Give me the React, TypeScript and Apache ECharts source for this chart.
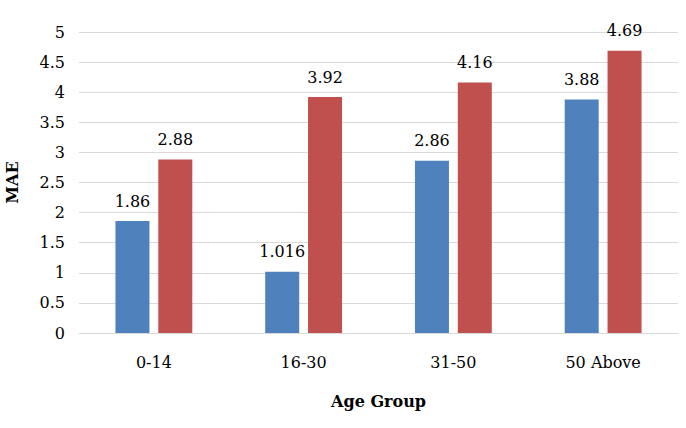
import React, { useEffect, useRef } from "react";
import * as echarts from "echarts";

// Mean absolute error by age group, two models side by side
const ageGroups = ["0-14", "16-30", "31-50", "50 Above"];
const seriesA = [1.86, 1.016, 2.86, 3.88];
const seriesB = [2.88, 3.92, 4.16, 4.69];
const yTicks = { min: 0, max: 5, interval: 0.5 };

const FONT = "DejaVu Serif";
const SIZE = 16;
const TEXT = "#000000";

export default function App() {
  const ref = useRef<HTMLDivElement>(null);

  useEffect(() => {
    if (!ref.current) return;
    const chart = echarts.init(ref.current, undefined, { renderer: "svg" });
    const label = {
      show: true,
      position: "top" as const,
      distance: 12,
      fontFamily: FONT,
      fontSize: SIZE,
      color: TEXT,
    };
    chart.setOption({
      animation: false,
      backgroundColor: "#ffffff",
      grid: {
        left: 79,
        right: 8,
        top: 32,
        bottom: 95,
        containLabel: false,
        outerBoundsMode: "none",
      },
      xAxis: {
        type: "category",
        data: ageGroups,
        name: "Age Group",
        nameLocation: "middle",
        nameGap: 60,
        nameTextStyle: { fontFamily: FONT, fontSize: SIZE, fontWeight: "bold", color: TEXT },
        axisLine: { lineStyle: { color: "#d9d9d9", width: 1 } },
        axisTick: { show: false },
        axisLabel: { fontFamily: FONT, fontSize: SIZE, color: TEXT, margin: 21 },
      },
      yAxis: {
        type: "value",
        min: yTicks.min,
        max: yTicks.max,
        interval: yTicks.interval,
        name: "MAE",
        nameLocation: "middle",
        nameGap: 59,
        nameTextStyle: { fontFamily: FONT, fontSize: SIZE, fontWeight: "bold", color: TEXT },
        axisLine: { show: false },
        axisTick: { show: false },
        axisLabel: { fontFamily: FONT, fontSize: SIZE, color: TEXT, margin: 14 },
        splitLine: { lineStyle: { color: "#d9d9d9", width: 1 } },
      },
      series: [
        {
          name: "Series 1",
          type: "bar",
          data: seriesA,
          barWidth: 34,
          barGap: "26%",
          itemStyle: { color: "#4f81bd" },
          label,
        },
        {
          name: "Series 2",
          type: "bar",
          data: seriesB,
          barWidth: 34,
          itemStyle: { color: "#c0504d" },
          label,
        },
      ],
    });
    return () => chart.dispose();
  }, []);

  return (
    <div
      ref={ref}
      style={{ position: "fixed", left: 0, top: 0, width: 686, height: 428 }}
    />
  );
}
